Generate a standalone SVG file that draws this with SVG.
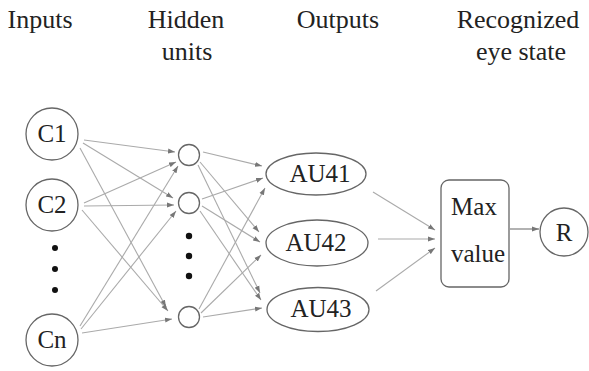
<svg xmlns="http://www.w3.org/2000/svg" width="589" height="371" viewBox="0 0 589 371">
<style>
.s{fill:#fff;stroke:#666;stroke-width:1.3}
.c line{stroke:#aaa;stroke-width:1.1;marker-end:url(#a)}
.d{fill:#111}
</style>
<defs>
<marker id="a" markerUnits="userSpaceOnUse" markerWidth="8" markerHeight="6" refX="7" refY="3" orient="auto">
<path d="M0,0.5 L7,3 L0,5.5 z" fill="#777"/>
</marker>
</defs>
<rect width="589" height="371" fill="#fff"/>
<g id="titles" font-family="Liberation Serif, Times New Roman, Times, Noto Serif, DejaVu Serif, serif" font-size="26" fill="#222" text-anchor="middle">
<text x="40" y="28">Inputs</text>
<text x="186" y="28">Hidden</text>
<text x="187" y="60">units</text>
<text x="338" y="28">Outputs</text>
<text x="518" y="28">Recognized</text>
<text x="521" y="60">eye state</text>
</g>
<g class="c" id="connectors">
<line x1="84" y1="140" x2="175" y2="152"/>
<line x1="83" y1="143" x2="173" y2="198"/>
<line x1="80" y1="148" x2="166" y2="307"/>
<line x1="84" y1="203" x2="176" y2="162"/>
<line x1="84" y1="206" x2="174" y2="205"/>
<line x1="82" y1="210" x2="168" y2="311"/>
<line x1="80" y1="326" x2="178" y2="166"/>
<line x1="81" y1="329" x2="176" y2="211"/>
<line x1="82" y1="333" x2="172" y2="319"/>
<line x1="203" y1="152" x2="262" y2="166"/>
<line x1="200" y1="162" x2="259" y2="232"/>
<line x1="198" y1="165" x2="260" y2="293"/>
<line x1="202" y1="199" x2="263" y2="178"/>
<line x1="202" y1="206" x2="260" y2="242"/>
<line x1="200" y1="211" x2="261" y2="300"/>
<line x1="199" y1="309" x2="265" y2="188"/>
<line x1="201" y1="313" x2="261" y2="255"/>
<line x1="203" y1="317" x2="262" y2="308"/>
<line x1="373" y1="192" x2="435" y2="230"/>
<line x1="378" y1="239" x2="435" y2="239"/>
<line x1="376" y1="291" x2="435" y2="248"/>
<line x1="510" y1="229" x2="539" y2="229" style="stroke-width:1.8"/>
</g>
<g id="nodes" font-family="Liberation Serif, Times New Roman, Times, Noto Serif, DejaVu Serif, serif" font-size="25" fill="#222" text-anchor="middle">
<g id="C1"><circle class="s" cx="52" cy="134" r="26"/><text x="52" y="142">C1</text></g>
<g id="C2"><circle class="s" cx="52" cy="205" r="26"/><text x="52" y="213">C2</text></g>
<g id="input-dots"><circle class="d" cx="55" cy="248" r="3"/><circle class="d" cx="55" cy="269" r="3"/><circle class="d" cx="55" cy="290" r="3"/></g>
<g id="Cn"><circle class="s" cx="52" cy="340" r="26"/><text x="52" y="348">Cn</text></g>
<g id="H1"><circle class="s" cx="189" cy="155" r="10.5"/></g>
<g id="H2"><circle class="s" cx="189" cy="203" r="10.5"/></g>
<g id="hidden-dots"><circle class="d" cx="189" cy="236" r="3.2"/><circle class="d" cx="189" cy="256" r="3.2"/><circle class="d" cx="189" cy="276" r="3.2"/></g>
<g id="H3"><circle class="s" cx="189" cy="317" r="10.5"/></g>
<g id="AU41"><ellipse class="s" cx="316" cy="174" rx="50" ry="21"/><text x="320" y="182">AU41</text></g>
<g id="AU42"><ellipse class="s" cx="317" cy="243" rx="51" ry="23"/><text x="316" y="251">AU42</text></g>
<g id="AU43"><ellipse class="s" cx="318" cy="309.5" rx="51" ry="22"/><text x="321" y="317">AU43</text></g>
<g id="max"><rect class="s" x="441" y="180" width="68" height="107" rx="8"/><text x="474" y="215">Max</text><text x="478" y="262">value</text></g>
<g id="R"><circle class="s" cx="564" cy="232" r="24"/><text x="564" y="241">R</text></g>
</g>
</svg>
